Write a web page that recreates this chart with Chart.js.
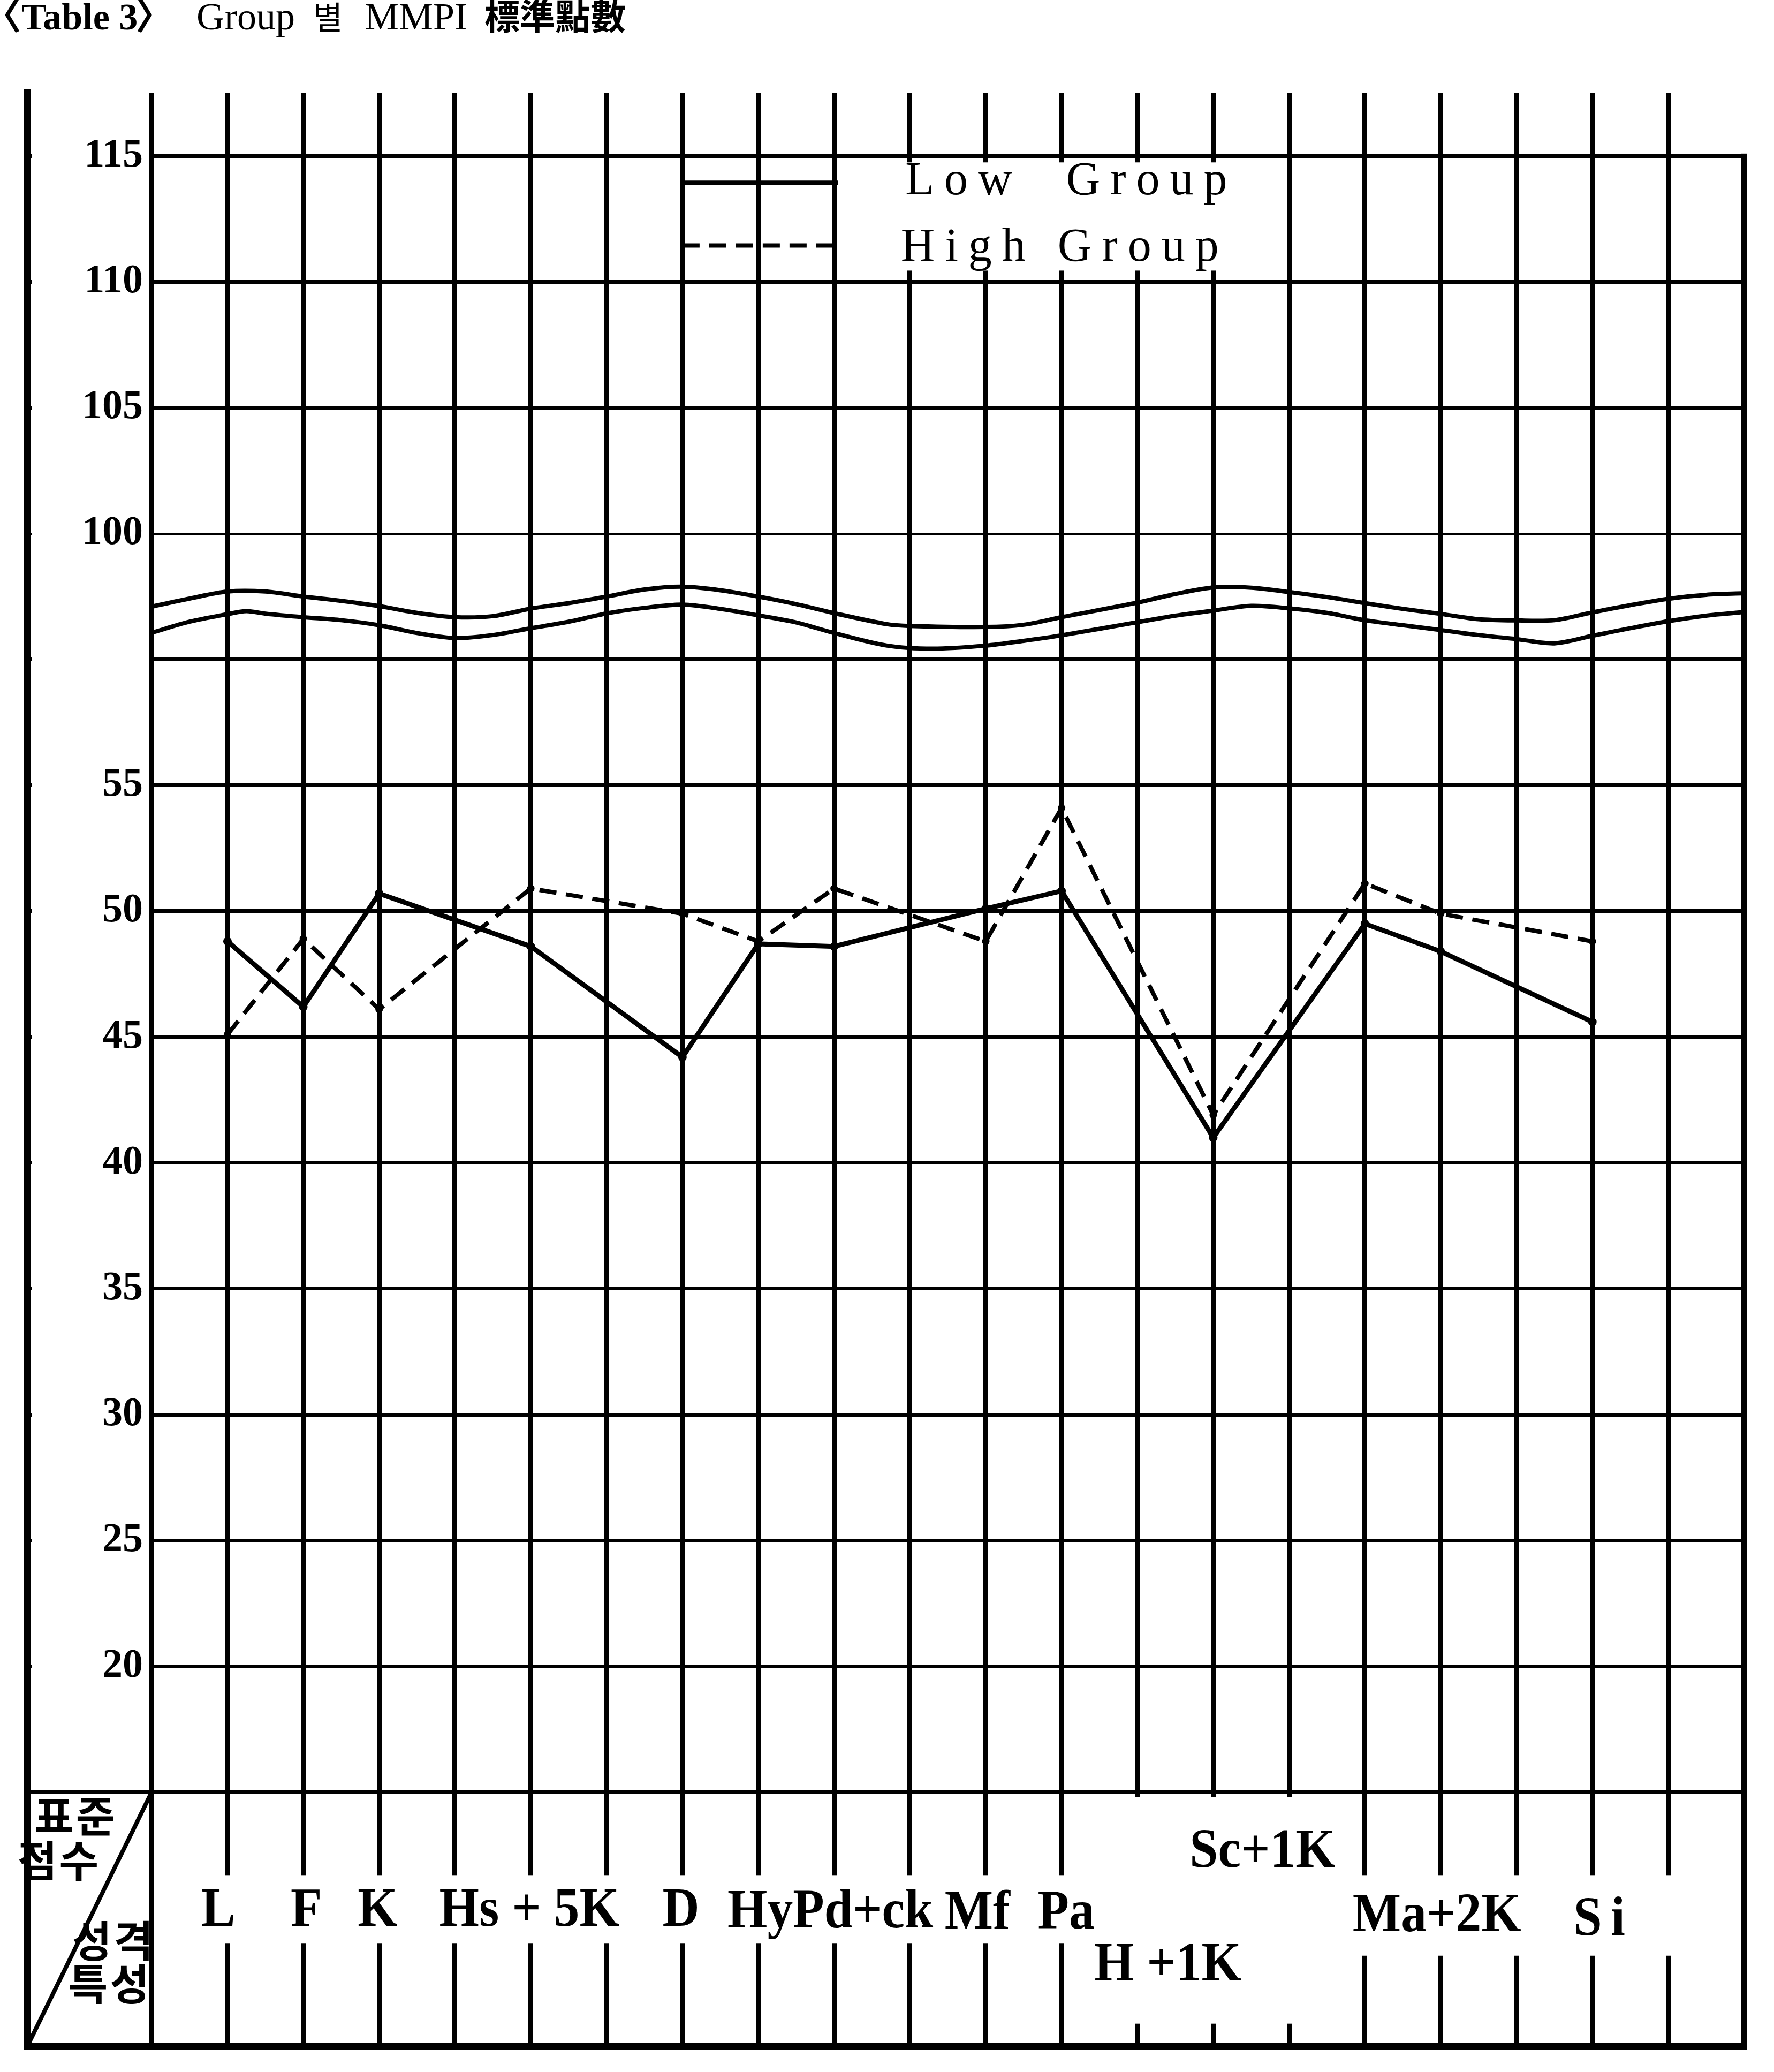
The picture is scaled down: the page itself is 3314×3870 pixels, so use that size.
<!DOCTYPE html>
<html>
<head>
<meta charset="utf-8">
<title>Group 별 MMPI 標準點數</title>
<script src="https://cdn.jsdelivr.net/npm/chart.js@4.4.1/dist/chart.umd.min.js"></script>
<style>
  html, body { margin: 0; padding: 0; background: #fff; }
  canvas { display: block; }
</style>
</head>
<body>
<canvas id="mmpi" width="3314" height="3870"></canvas>
<script>
// grid column of each plotted MMPI scale (L, F, K, Hs, D, Hy, Pd, Mf, Pa, Pt, Sc, Ma, Si)
const scaleColumns = [0, 1, 2, 4, 6, 7, 8, 10, 11, 13, 15, 16, 18];
const lowGroup  = [48.8, 46.2, 50.7, 48.6, 44.2, 48.7, 48.6, 50.1, 50.8, 41.0, 49.5, 48.4, 45.6];
const highGroup = [45.1, 48.9, 46.1, 50.9, 49.9, 48.8, 50.9, 48.8, 54.1, 41.9, 51.1, 49.9, 48.8];
const seriesNames = ["Low  Group", "High Group"];

const scoreTicks = [20, 25, 30, 35, 40, 45, 50, 55, 100, 105, 110, 115];
const scaleLabels = ["L", "F", "K", "Hs + 5K", "D", "HyPd+ck", "Mf", "Pa", "H +1K", "Sc+1K", "Ma+2K", "Si"];
const cornerTop = ["표준", "점수"];
const cornerBottom = ["성격", "특성"];

// scores 100..115 sit above the wavy break, 35 points lower on the axis
const BREAK_SHIFT = 35;
const toPos = v => (v >= 100 ? v - BREAK_SHIFT : v);
const BOX_TOP = 15, BREAK_LINE = 60;

// layout of the printed labels: [column, axis position]
const labelPos = [[-0.12, 10.4], [1.04, 10.4], [1.98, 10.4], [3.98, 10.4], [5.98, 10.4], [7.95, 10.35],
  [9.89, 10.3], [11.06, 10.3], [12.4, 8.25], [13.65, 12.75], [15.95, 10.2], [18.15, 10.05]];
const cornerPos = [[-2.0, 14.05], [-2.22, 12.3], [-1.5, 9.1], [-1.55, 7.4]];
// blank stretches in the ruled lines: [col from, col to, top, bottom]
const ruleGaps = [
  [8.45, 13.55, 79.75, 75.45],
  [19.9, 20.3, 83, 80.1],
  [-0.5, 11.5, 11.7, 9.0],
  [11.5, 14.5, 14.8, 5.8],
  [14.5, 19.5, 11.7, 8.5]
];

// hand drawn double wavy line of the axis break
const waveUpper = [[-1,62.1],[-0.5,62.42],[0,62.7],[0.5,62.7],[1,62.5],[1.5,62.33],[2,62.12],[2.5,61.85],[3,61.68],
  [3.5,61.72],[4,62.02],[4.5,62.24],[5,62.5],[5.5,62.78],[6,62.89],[6.5,62.75],[7,62.5],[7.5,62.2],[8,61.84],
  [8.7,61.4],[9,61.33],[10,61.29],[10.5,61.38],[11,61.68],[12,62.26],[12.5,62.6],[13,62.86],[13.5,62.85],
  [14,62.68],[14.5,62.48],[15,62.24],[15.5,62.01],[16,61.81],[16.5,61.6],[17,61.55],[17.5,61.56],[18,61.87],
  [18.5,62.16],[19,62.41],[19.5,62.57],[20,62.63]];
const waveLower = [[-1,61.06],[-0.5,61.5],[0,61.8],[0.25,61.92],[0.5,61.82],[1,61.68],[1.5,61.56],[2,61.36],
  [2.5,61.05],[3,60.85],[3.5,60.97],[4,61.24],[4.5,61.5],[5,61.83],[5.5,62.05],[6,62.18],[6.5,62.01],[7,61.75],
  [7.5,61.47],[8,61.05],[8.7,60.55],[9.3,60.43],[10,60.55],[10.5,60.74],[11,60.96],[12,61.48],[12.5,61.74],
  [13,61.94],[13.5,62.13],[14,62.03],[14.5,61.85],[15,61.56],[15.5,61.36],[16,61.17],[16.5,60.97],[17,60.81],
  [17.5,60.64],[18,60.94],[18.5,61.24],[19,61.52],[19.5,61.74],[20,61.88]];

const titleParts = [
  { text: "〈", font: "bold 70px 'Noto Sans CJK KR'", x: -30 },
  { text: "Table 3", font: "bold 70px 'Liberation Serif'", x: 40 },
  { text: "〉", font: "bold 70px 'Noto Sans CJK KR'", x: 253 },
  { text: "Group", font: "72px 'Liberation Serif'", x: 367 },
  { text: "별", font: "60px 'Noto Sans CJK KR'", x: 585 },
  { text: "MMPI", font: "72px 'Liberation Serif'", x: 681 },
  { text: "標準點數", font: "bold 66px 'Noto Sans CJK KR'", x: 905 }
];

const points = vals => scaleColumns.map((c, i) => ({ x: c, y: toPos(vals[i]) }));
const wave = arr => arr.map(p => ({ x: p[0], y: p[1] }));
const HIGH_DASH = [32, 18];

const framePlugin = {
  id: "mmpiFrame",
  beforeDatasetsDraw(chart) {
    const { ctx, chartArea: a, scales: { x, y } } = chart;
    ctx.save();
    ctx.fillStyle = "#fff";
    // left strip holds the score labels only
    const stripR = x.getPixelForValue(-1) - 5;
    ctx.fillRect(a.left + 8, a.top, stripR - a.left - 8, y.getPixelForValue(BOX_TOP) - 4 - a.top);
    ruleGaps.forEach(g => {
      const x0 = x.getPixelForValue(g[0]), x1 = x.getPixelForValue(g[1]);
      const y0 = y.getPixelForValue(g[2]), y1 = y.getPixelForValue(g[3]);
      ctx.fillRect(x0, y0, x1 - x0, y1 - y0);
    });
    ctx.restore();
  },
  afterDatasetsDraw(chart) {
    const { ctx, chartArea: a, scales: { x, y } } = chart;
    ctx.save();
    ctx.fillStyle = "#000";
    ctx.strokeStyle = "#000";

    // legend
    const ds = chart.data.datasets;
    [[78.94, 78.47], [76.45, 75.85]].forEach((row, i) => {
      ctx.lineWidth = 8;
      ctx.setLineDash(ds[i].borderDash || []);
      ctx.beginPath();
      ctx.moveTo(x.getPixelForValue(6), y.getPixelForValue(row[0]));
      ctx.lineTo(x.getPixelForValue(8.05), y.getPixelForValue(row[0]));
      ctx.stroke();
      ctx.setLineDash([]);
      ctx.font = "88px 'Liberation Serif'";
      ctx.letterSpacing = "19px";
      ctx.textAlign = "left";
      ctx.textBaseline = "alphabetic";
      ctx.fillText(seriesNames[i], x.getPixelForValue(i === 0 ? 8.94 : 8.88), y.getPixelForValue(row[1]));
    });
    ctx.letterSpacing = "0px";

    // scale names in the bottom box, slightly condensed like the print
    ctx.font = "bold 104px 'Liberation Serif'";
    ctx.textAlign = "center";
    scaleLabels.forEach((t, i) => {
      ctx.letterSpacing = t === "Si" ? "18px" : "0px";
      ctx.save();
      ctx.translate(x.getPixelForValue(labelPos[i][0]), y.getPixelForValue(labelPos[i][1]) + 34);
      ctx.scale(0.92, 1);
      ctx.fillText(t, 0, 0);
      ctx.restore();
    });
    ctx.letterSpacing = "0px";

    // corner cell
    ctx.lineWidth = 8;
    ctx.beginPath();
    ctx.moveTo(a.left, a.bottom);
    ctx.lineTo(x.getPixelForValue(-1), y.getPixelForValue(BOX_TOP));
    ctx.stroke();
    ctx.font = "bold 80px 'Noto Sans CJK KR'";
    ctx.textBaseline = "middle";
    ctx.letterSpacing = "4px";
    cornerTop.concat(cornerBottom).forEach((t, i) => {
      ctx.fillText(t, x.getPixelForValue(cornerPos[i][0]), y.getPixelForValue(cornerPos[i][1]));
    });
    ctx.letterSpacing = "0px";
    ctx.restore();
  },
  afterDraw(chart) {
    const ctx = chart.ctx;
    ctx.save();
    ctx.fillStyle = "#000";
    ctx.textAlign = "left";
    ctx.textBaseline = "alphabetic";
    titleParts.forEach(p => {
      ctx.font = p.font;
      ctx.fillText(p.text, p.x, 55);
    });
    ctx.restore();
  }
};

const yLines = [BOX_TOP, BREAK_LINE].concat(scoreTicks.map(toPos)).sort((a, b) => a - b);
const xLines = [];
for (let c = -1; c <= 20; c++) xLines.push(c);

new Chart(document.getElementById("mmpi"), {
  type: "line",
  data: {
    datasets: [
      {
        label: seriesNames[0],
        data: points(lowGroup),
        borderColor: "#000",
        borderWidth: 9,
        pointRadius: 8,
        pointBackgroundColor: "#000",
        pointBorderWidth: 0,
        tension: 0
      },
      {
        label: seriesNames[1],
        data: points(highGroup),
        borderColor: "#000",
        borderWidth: 8,
        borderDash: HIGH_DASH,
        pointRadius: 7,
        pointBackgroundColor: "#000",
        pointBorderWidth: 0,
        tension: 0
      },
      { label: "break-a", data: wave(waveUpper), borderColor: "#000", borderWidth: 8, pointRadius: 0, tension: 0.3 },
      { label: "break-b", data: wave(waveLower), borderColor: "#000", borderWidth: 8, pointRadius: 0, tension: 0.3 }
    ]
  },
  options: {
    responsive: false,
    animation: false,
    devicePixelRatio: 1,
    layout: { padding: { left: 51, right: 56, top: 174, bottom: 48 } },
    plugins: {
      legend: { display: false },
      title: { display: false },
      tooltip: { enabled: false }
    },
    scales: {
      x: {
        type: "linear",
        min: -2.64,
        max: 20,
        bounds: "data",
        afterBuildTicks: s => { s.ticks = xLines.map(v => ({ value: v })); },
        afterFit: s => { s.height = 0; s.paddingLeft = 0; s.paddingRight = 0; },
        ticks: { display: false },
        grid: {
          color: "#000",
          drawTicks: false,
          lineWidth: c => (c.tick && c.tick.value === 20 ? 12 : 9)
        },
        border: { display: true, color: "#000", width: 12 }
      },
      y: {
        type: "linear",
        min: 4.9,
        max: 82.5,
        bounds: "data",
        afterBuildTicks: s => { s.ticks = yLines.map(v => ({ value: v })); },
        afterFit: s => { s.width = 0; s.paddingTop = 0; s.paddingBottom = 0; },
        ticks: {
          mirror: true,
          crossAlign: "far",
          padding: 102,
          z: 1,
          color: "#000",
          font: { family: "Liberation Serif", weight: "bold", size: 76 },
          callback: v => {
            const s = scoreTicks.find(t => toPos(t) === v);
            return s === undefined ? "" : String(s);
          }
        },
        grid: {
          color: "#000",
          drawTicks: false,
          lineWidth: c => (c.tick && c.tick.value === toPos(100) ? 4 : 7)
        },
        border: { display: true, color: "#000", width: 14 }
      }
    }
  },
  plugins: [framePlugin]
});
</script>
</body>
</html>
